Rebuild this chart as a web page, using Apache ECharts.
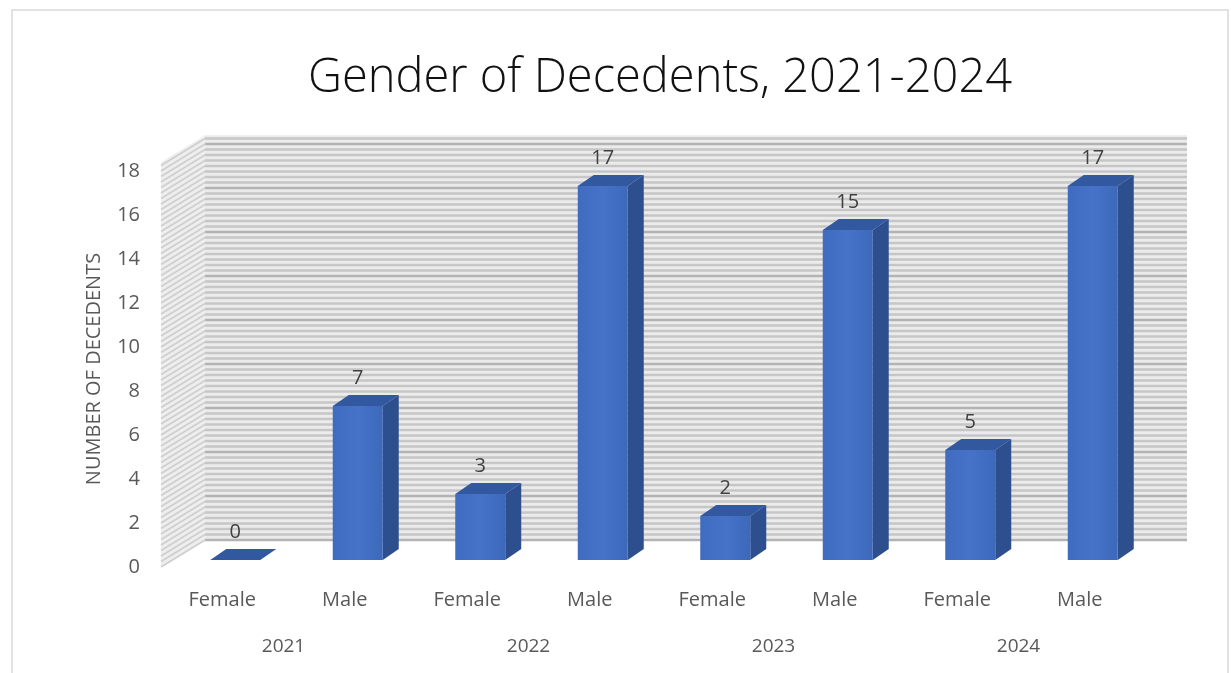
<!doctype html>
<html lang="en">
<head>
    <meta charset="UTF-8">
    <title>Gender of Decedents, 2021-2024</title>
    <style>
        html, body { margin: 0; padding: 0; background: #fff; }
        #chart { width: 1231px; height: 673px; }
    </style>
</head>
<body>
    <div id="chart"></div>

    <script src="https://cdn.jsdelivr.net/npm/echarts@6/dist/echarts.min.js"></script>
    <script>
        // data
        var categories = ['Female', 'Male', 'Female', 'Male', 'Female', 'Male', 'Female', 'Male'];
        var years = ['2021', '2022', '2023', '2024'];
        var decedents = [0, 7, 3, 17, 2, 15, 5, 17];
        var yMax = 18;
        var yStep = 2;

        var textColor = '#595959';
        var font = 'Open Sans';

        // depth offsets for the fake 3d look
        var wallDx = 44, wallDy = -27;
        var barDx = 16, barDy = -11;

        var chart = echarts.init(document.getElementById('chart'));

        function renderWall(params, api) {
            var cs = params.coordSys;
            var left = cs.x, right = cs.x + cs.width;
            var children = [];
            var yBottom = api.coord([0, 0])[1];
            var yTop = api.coord([0, yMax + 0.4])[1];

            // left side wall
            children.push({
                type: 'polygon',
                shape: { points: [[left, yBottom], [left + wallDx, yBottom + wallDy], [left + wallDx, yTop + wallDy], [left, yTop]] },
                style: { fill: '#eeeeee' }
            });
            // back wall
            children.push({
                type: 'rect',
                shape: { x: left + wallDx, y: yTop + wallDy, width: right - left + 2, height: yBottom - yTop },
                style: { fill: '#ebebeb' }
            });
            // dense grid lines
            for (var v = 0; v <= yMax + 0.3; v += 0.25) {
                var y = api.coord([0, v])[1];
                var major = Math.abs(v / yStep - Math.round(v / yStep)) < 1e-6;
                var col = major ? '#b3b3b3' : '#c6c6c6';
                children.push({
                    type: 'line',
                    shape: { x1: left + wallDx, y1: y + wallDy, x2: right + wallDx + 2, y2: y + wallDy },
                    style: { stroke: col, lineWidth: 2.4 }
                });
                children.push({
                    type: 'line',
                    shape: { x1: left, y1: y, x2: left + wallDx, y2: y + wallDy },
                    style: { stroke: '#cfcfcf', lineWidth: 1.8 }
                });
            }
            return { type: 'group', children: children };
        }

        function renderBar(params, api) {
            var idx = api.value(0);
            var val = api.value(1);
            var cx = api.coord([idx, 0])[0];
            var y0 = api.coord([idx, 0])[1] - 7;
            var y1 = api.coord([idx, val])[1] - 7;
            var l = cx - 12, r = cx + 38;
            return {
                type: 'group',
                children: [
                    {
                        type: 'polygon',
                        shape: { points: [[r, y1], [r + barDx, y1 + barDy], [r + barDx, y0 + barDy], [r, y0]] },
                        style: { fill: '#2d4f8e' }
                    },
                    {
                        type: 'polygon',
                        shape: { points: [[l, y1], [r, y1], [r + barDx, y1 + barDy], [l + barDx, y1 + barDy]] },
                        style: { fill: '#32589f' }
                    },
                    {
                        type: 'rect',
                        shape: { x: l, y: y1, width: r - l, height: y0 - y1 },
                        style: {
                            fill: new echarts.graphic.LinearGradient(0, 0, 1, 0, [
                                { offset: 0, color: '#3f6cc0' },
                                { offset: 0.5, color: '#4673c8' },
                                { offset: 1, color: '#3d69bb' }
                            ])
                        }
                    },
                    {
                        type: 'text',
                        x: cx + 13,
                        y: y1 + barDy - 17,
                        style: {
                            text: String(val),
                            fill: '#404040',
                            font: '20px "' + font + '"',
                            align: 'center',
                            verticalAlign: 'middle'
                        }
                    }
                ]
            };
        }

        var option = {
            animation: false,
            backgroundColor: '#fff',
            title: {
                text: 'Gender of Decedents, 2021-2024',
                left: 655,
                textAlign: 'center',
                top: 50,
                textStyle: {
                    fontFamily: font,
                    fontSize: 47,
                    fontWeight: 300,
                    color: '#111'
                }
            },
            graphic: [{
                type: 'rect',
                shape: { x: 12, y: 10, width: 1216, height: 680 },
                style: { fill: 'none', stroke: '#d9d9d9', lineWidth: 1.5 },
                z: -10
            }],
            grid: {
                left: 161,
                right: 90,
                top: 171,
                bottom: 106
            },
            xAxis: [{
                type: 'category',
                data: categories,
                axisLine: { show: false },
                axisTick: { show: false },
                axisLabel: { color: textColor, fontFamily: font, fontSize: 20, margin: 23 }
            }, {
                type: 'category',
                data: years,
                position: 'bottom',
                axisLine: { show: false },
                axisTick: { show: false },
                axisLabel: { color: textColor, fontFamily: font, fontSize: 19, margin: 70 }
            }],
            yAxis: {
                type: 'value',
                min: 0,
                max: yMax,
                interval: yStep,
                name: 'NUMBER OF DECEDENTS',
                nameLocation: 'middle',
                nameGap: 57,
                nameTextStyle: { color: textColor, fontFamily: font, fontSize: 20 },
                axisLine: { show: false },
                axisTick: { show: false },
                splitLine: { show: false },
                axisLabel: { color: textColor, fontFamily: font, fontSize: 20, margin: 21 }
            },
            series: [{
                type: 'custom',
                name: 'wall',
                z: 1,
                silent: true,
                clip: false,
                renderItem: renderWall,
                data: [[0, 0]]
            }, {
                type: 'custom',
                name: 'Decedents',
                z: 2,
                clip: false,
                renderItem: renderBar,
                data: decedents.map(function (v, i) { return [i, v]; })
            }]
        };

        chart.setOption(option);
    </script>
</body>
</html>
